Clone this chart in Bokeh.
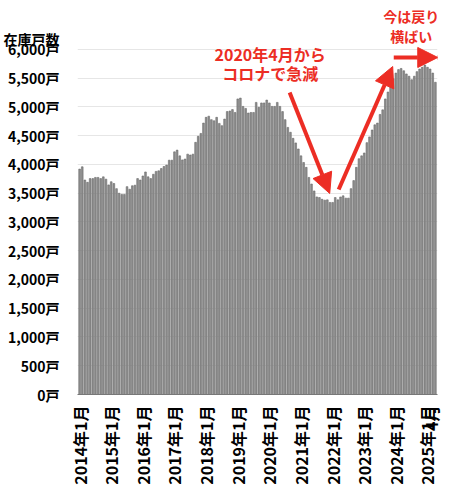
import math
from bokeh.plotting import figure
from bokeh.models import FixedTicker, Label, Arrow, NormalHead
from bokeh.embed import file_html
from bokeh.resources import INLINE

# 在庫戸数 (monthly, 2014-01 .. 2025-04)
stock = [
    3920, 3960, 3730, 3690, 3755, 3755, 3775, 3775, 3755, 3785, 3745, 3645,
    3700, 3670, 3580, 3500, 3480, 3480, 3615, 3570, 3630, 3640, 3755, 3730,
    3800, 3870, 3785, 3755, 3830, 3880, 3890, 3930, 3965, 3990, 4075, 4075,
    4220, 4250, 4150, 4080, 4095, 4180, 4165, 4180, 4385, 4490, 4540, 4720,
    4820, 4840, 4780, 4760, 4820, 4715, 4675, 4790, 4920, 4930, 4955, 4905,
    5140, 5155, 5010, 4975, 4895, 4905, 4905, 5080, 4995, 5070, 5070, 5120,
    5070, 5010, 5010, 5080, 5010, 4920, 4780, 4645, 4560, 4455, 4375, 4270,
    4150, 4035, 3950, 3775, 3660, 3540, 3436, 3425, 3395, 3380, 3385, 3340,
    3340, 3425, 3385, 3435, 3455, 3415, 3415, 3580, 3720, 3950, 4100, 4150,
    4200, 4380, 4480, 4600, 4690, 4720, 4870, 4950, 5140, 5260, 5360, 5490,
    5590, 5650, 5670, 5630, 5575, 5535, 5475, 5535, 5615, 5660, 5690, 5730,
    5690, 5660, 5590, 5430,
]
months = list(range(len(stock)))

x_ticks = [0, 12, 24, 36, 48, 60, 72, 84, 96, 108, 120, 132, 135]
x_labels = ["2014年1月", "2015年1月", "2016年1月", "2017年1月", "2018年1月",
            "2019年1月", "2020年1月", "2021年1月", "2022年1月", "2023年1月",
            "2024年1月", "2025年1月", "4月"]
y_ticks = [0, 500, 1000, 1500, 2000, 2500, 3000, 3500, 4000, 4500, 5000, 5500, 6000]
y_title = "在庫戸数"

RED = "#ec2d24"
JP = "Noto Sans CJK JP"

p = figure(
    width=434, height=479,
    frame_width=360, frame_height=394,
    min_border_left=69, min_border_right=5, min_border_top=0, min_border_bottom=85,
    x_range=(-0.8, 135.8), y_range=(0, 6852),
    output_backend="svg", toolbar_location=None,
)

p.vbar(x=months, top=stock, width=0.64, fill_color="#8e8e8e",
       line_color="#6a6a6a", line_width=0.6)

p.xaxis.ticker = FixedTicker(ticks=x_ticks)
p.xaxis.major_label_overrides = dict(zip(x_ticks, x_labels))
p.xaxis.major_label_orientation = math.pi / 2
p.xaxis.major_label_text_font = JP
p.xaxis.major_label_text_font_size = "16px"
p.xaxis.major_label_text_font_style = "bold"
p.xaxis.major_label_text_color = "black"
p.xaxis.axis_line_color = "#777777"
p.xaxis.major_tick_line_color = None
p.xaxis.minor_tick_line_color = None
p.xaxis.major_label_standoff = 5

# the "在庫戸数" heading sits on the y axis, above the 6,000 tick
title_pos = 6190
p.yaxis.ticker = FixedTicker(ticks=y_ticks + [title_pos])
labels = {v: f"{v:,}戸" for v in y_ticks}
labels[title_pos] = y_title
p.yaxis.major_label_overrides = labels
p.yaxis.major_label_text_font = JP
p.yaxis.major_label_text_font_size = "14px"
p.yaxis.major_label_text_font_style = "bold"
p.yaxis.major_label_text_color = "black"
p.yaxis.axis_line_color = None
p.yaxis.major_tick_line_color = None
p.yaxis.minor_tick_line_color = None
p.yaxis.major_label_standoff = 12

p.xgrid.grid_line_color = None
p.ygrid.ticker = FixedTicker(ticks=y_ticks)
p.ygrid.grid_line_color = "#e6e6e6"
p.outline_line_color = None

# annotations
for txt, xx, yy, fs in [("2020年4月から", 72.3, 5922, "16px"),
                        ("コロナで急減", 72.3, 5583, "16px"),
                        ("今は戻り", 125.8, 6574, "14px"),
                        ("横ばい", 125.8, 6226, "14px")]:
    p.add_layout(Label(x=xx, y=yy, text=txt, text_align="center",
                       text_baseline="middle", text_color=RED,
                       text_font=JP, text_font_size=fs, text_font_style="bold"))

for xs, ys, xe, ye in [(79.7, 5252, 94.9, 3496),
                       (98.3, 3565, 118.8, 5704),
                       (119.2, 5861, 135.9, 5861)]:
    p.add_layout(Arrow(end=NormalHead(size=20, fill_color=RED, line_color=RED),
                       x_start=xs, y_start=ys, x_end=xe, y_end=ye,
                       line_color=RED, line_width=4))

open("out.html", "w").write(file_html(p, INLINE))
